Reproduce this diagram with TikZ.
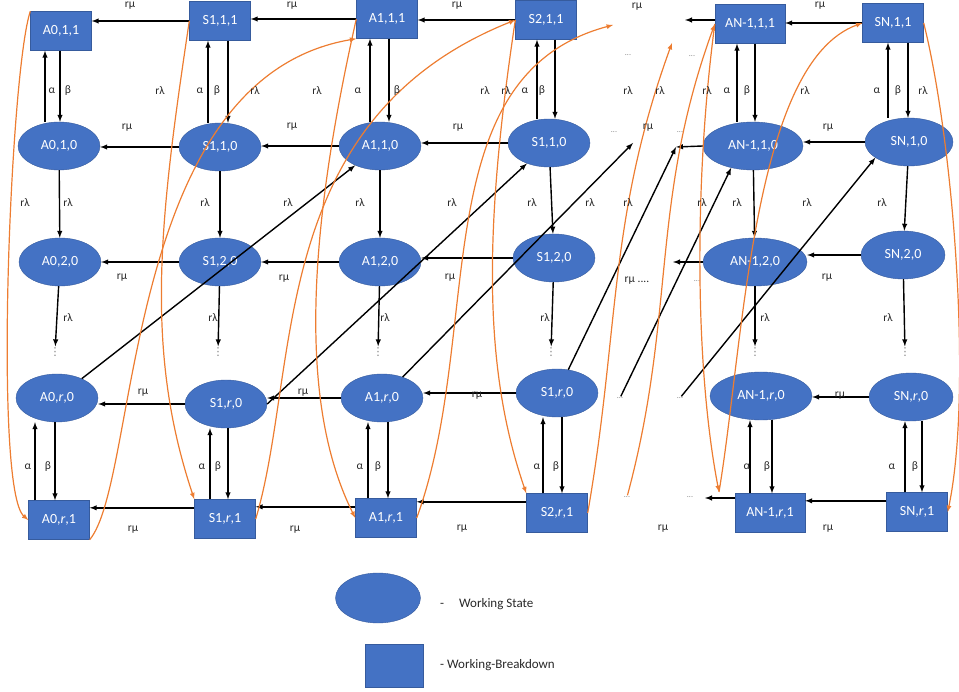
\documentclass[tikz,border=0pt]{standalone}
\usepackage{fontspec}
\setmainfont{Carlito}
\newfontfamily\symfont{DejaVu Sans}
\usetikzlibrary{shapes,arrows}
\usetikzlibrary{positioning}
\usetikzlibrary{calc}
\definecolor{myblue}{RGB}{68,114,196}
\definecolor{myorange}{RGB}{237,125,49}
\definecolor{mygray}{RGB}{40,40,40}
\newcommand\mystate[4][]{%
  \node[myell,#1] (#2) at (#3) {#4};
}
\newcommand\mybrk[4][]{%
  \node[mybox,#1] (#2) at (#3) {#4};
}

\begin{document}
\begin{tikzpicture}[>=latex, x=1pt, y=1pt,
myell/.style={
  ellipse,
  draw=myblue!80!black,
  fill=myblue,
  text=white,
  minimum width=82pt, minimum height=48pt, inner sep=0pt,
  font=\fontsize{14}{16}\selectfont},
mybox/.style={
  rectangle,
  draw=myblue!80!black,
  fill=myblue,
  text=white,
  minimum width=61pt, minimum height=39pt, inner sep=0pt,
  font=\fontsize{14}{16}\selectfont},
lbl/.style={text=mygray, inner sep=1pt, font=\fontsize{11.5}{13}\selectfont},
dts/.style={text=gray, inner sep=1pt, font=\fontsize{8}{9}\selectfont},
vdts/.style={text=gray, inner sep=1pt, font=\symfont\fontsize{11}{12}\selectfont},
legtxt/.style={text=mygray, inner sep=0pt, font=\fontsize{13}{15}\selectfont},
blk/.style={->, line width=1.4pt},
orng/.style={->, draw=myorange, line width=1.2pt}
]
\useasboundingbox (0,0) rectangle (959,-692);

% breakdown states, top row
\mybrk{a0t}{61,-31}{A0,1,1}
\mybrk{s1t}{220,-21}{S1,1,1}
\mybrk{a1t}{387,-19}{A1,1,1}
\mybrk{s2t}{546,-20}{S2,1,1}
\mybrk[minimum width=70pt]{ant}{750,-24}{AN-1,1,1}
\mybrk{snt}{893,-23}{SN,1,1}
% working states
\mystate{a01}{59,-146}{A0,1,0}
\mystate{s11}{220,-147}{S1,1,0}
\mystate{a11}{380,-146}{A1,1,0}
\mystate{s21}{549,-143}{S1,1,0}
\mystate[minimum width=100pt]{an1}{753,-146}{AN-1,1,0}
\mystate[minimum width=88pt]{sn1}{909,-142}{SN,1,0}
\mystate{a02}{60,-262}{A0,2,0}
\mystate{s12}{220,-262}{S1,2,0}
\mystate{a12}{380,-262}{A1,2,0}
\mystate{s22}{554,-258}{S1,2,0}
\mystate[minimum width=104pt]{an2}{755,-262}{AN-1,2,0}
\mystate[minimum width=84pt]{sn2}{903,-255}{SN,2,0}
\mystate{a0r}{57,-398}{A0,\textit{r},0}
\mystate{s1r}{226,-404}{S1,\textit{r},0}
\mystate{a1r}{382,-398}{A1,\textit{r},0}
\mystate{s2r}{557,-393}{S1,\textit{r},0}
\mystate[minimum width=102pt]{anr}{761,-396}{AN-1,\textit{r},0}
\mystate[minimum width=84pt]{snr}{911,-397}{SN,\textit{r},0}
% breakdown states, bottom row
\mybrk{a0b}{59,-520}{A0,\textit{r},1}
\mybrk{s1b}{225,-519}{S1,\textit{r},1}
\mybrk{a1b}{386,-518}{A1,\textit{r},1}
\mybrk{s2b}{557,-513}{S2,\textit{r},1}
\mybrk[minimum width=70pt]{anb}{770,-513}{AN-1,\textit{r},1}
\mybrk{snb}{917,-512}{SN,\textit{r},1}

% dots
\foreach \col/\x in {a0/55, s1/218, a1/378, s2/551, an/755, sn/905}
  \node[vdts] (\col d) at (\x,-352) {⋮};
\node[dts] (dt1) at (628,-55) {...};
\node[dts] (dt2) at (692,-56) {...};
\node[dts] (d11) at (614,-132) {...};
\node[dts] (d12) at (680,-132) {...};
\node[dts] (d22) at (697,-281) {...};
\node[dts] (drl) at (620,-398) {...};
\node[dts] (drr) at (680,-398) {...};
\node[dts] (db1) at (627,-497) {...};
\node[dts] (db2) at (690,-497) {...};
\coordinate (antip) at (685,-20);
\coordinate (an1tip) at (676,-147);
\coordinate (an2tip) at (673,-262);
\coordinate (anbtip) at (705,-498);
\coordinate (l3tip) at (633,-143);
\coordinate (o7tip) at (613,-25);
\coordinate (o8tip) at (672,-43);
\coordinate (vtip) at (719,-492);

% r mu arrows
\foreach \row/\anc in {t/west,1/west,2/west,r/west,b/160}
  \foreach \src/\dst in {s1/a0,a1/s1,s2/a1,sn/an}
    \draw[blk] (\src\row.\anc) -- (\src\row.\anc -| \dst\row.east);
\draw[blk] (antip -| ant.west) -- (antip);
\draw[blk] (an1.west) -- (an1tip);
\draw[blk] (an2.west) -- (an2tip);
\draw[blk] (anbtip -| anb.west) -- (anbtip);

% alpha, beta and r lambda arrows
\foreach \col/\ta/\tb/\ba/\bb in {a0/-14/1/-22/-2, s1/-12/8/-16/2, a1/-10/9/-14/6,
    s2/-12/6/-14/5, an/-16/2/-11/11, sn/-21/-1/-6/11}{
  \coordinate (p) at ([xshift=\ta pt]\col1.north);
  \draw[blk] (p) -- (p |- \col t.south);
  \coordinate (p) at ([xshift=\tb pt]\col1.north);
  \draw[blk] (p |- \col t.south) -- (p);
  \coordinate (p) at ([xshift=\ba pt]\col r.south);
  \draw[blk] (p |- \col b.north) -- (p);
  \coordinate (p) at ([xshift=\bb pt]\col r.south);
  \draw[blk] (p) -- (p |- \col b.north);
  \draw[blk] (\col1) -- (\col2);
  \draw[blk] (\col2) -- (\col d);
}
\draw[blk] (a0r) -- (a11);
\draw[blk] (s1r.east) -- (s21);
\draw[blk] (a1r) -- (l3tip);
\draw[blk] (s2r) -- (an1tip);
\draw[blk] (drl) -- (an1.225);
\draw[blk] (drr) -- (sn1.205);

% orange curves
\draw[orng] (a0t.north west) .. controls +(-20,-60) and +(-35,30) .. (a0b.west);
\draw[orng] (a0b.south east) .. controls +(50,60) and +(-235,-40) .. (a1t.south west);
\draw[orng] (s1t.west) .. controls +(-30,-200) and +(-50,150) .. (s1b.north west);
\draw[orng] (s1b.east) .. controls +(45,150) and +(-250,-100) .. (s2t.west);
\draw[orng] (a1t.west) .. controls +(-45,-200) and +(-60,120) .. (a1b.west);
\draw[orng] (s2t.west) .. controls +(-30,-200) and +(-45,130) .. (s2b.north west);
\draw[orng] (a1b.east) .. controls +(68,186) and +(-191,-51) .. (o7tip);
\draw[orng] (s2b.east) .. controls +(32,184) and +(-64,-176) .. (o8tip);
\draw[orng] (db1) .. controls +(49,182) and +(-65,-178) .. (ant.west);
\draw[orng] (ant.west) .. controls +(-20,-150) and +(-25,130) .. (vtip);
\draw[orng] (vtip) .. controls +(25,150) and +(-110,-40) .. (snt.west);
\draw[orng] (snt.east) .. controls +(30,-120) and +(25,120) .. (snb.east);

% labels
\foreach \x/\y [count=\i] in {130/6, 292/6, 457/6, 637/7, 820/6,
    127/128, 292/127, 458/128, 648/128, 828/128,
    122/278, 284/279, 450/278, 827/278,
    143/393, 303/393, 477/396, 840/396,
    133/530, 295/530, 462/529, 663/529, 828/529}
  \node[lbl] (mu\i) at (\x,-\y) {rμ};
\node[lbl] (mux) at (637,-281) {rμ ....};
\foreach \x/\y [count=\i] in {160/91, 255/91, 317/91, 485/91, 506/91, 628/91, 660/91,
    707/91, 805/91, 923/91,
    25/203, 68/203, 205/203, 288/203, 360/203, 452/203, 532/203, 590/203,
    628/203, 702/203, 737/203, 807/203, 882/203,
    68/318, 213/318, 385/318, 545/318, 765/318, 888/318}
  \node[lbl] (la\i) at (\x,-\y) {rλ};
\foreach \x/\y [count=\i] in {52/91, 200/91, 358/91, 525/91, 727/91, 877/91,
    28/467, 202/467, 360/467, 537/467, 747/467, 892/467}
  \node[lbl] (al\i) at (\x,-\y) {α};
\foreach \x/\y [count=\i] in {68/91, 217/91, 397/91, 542/91, 747/91, 898/91,
    48/467, 218/467, 378/467, 556/467, 767/467, 915/467}
  \node[lbl] (be\i) at (\x,-\y) {β};

% legend
\mystate[minimum width=85pt, minimum height=50pt]{legs}{378,-598}{}
\mybrk[minimum width=58pt, minimum height=43pt]{legb}{394,-666}{}
\node[legtxt, anchor=west] (legst) at (440,-604) {-\hspace{15pt}Working State};
\node[legtxt, anchor=west] (legbt) at (440,-665) {- Working-Breakdown};
\end{tikzpicture}
\end{document}
